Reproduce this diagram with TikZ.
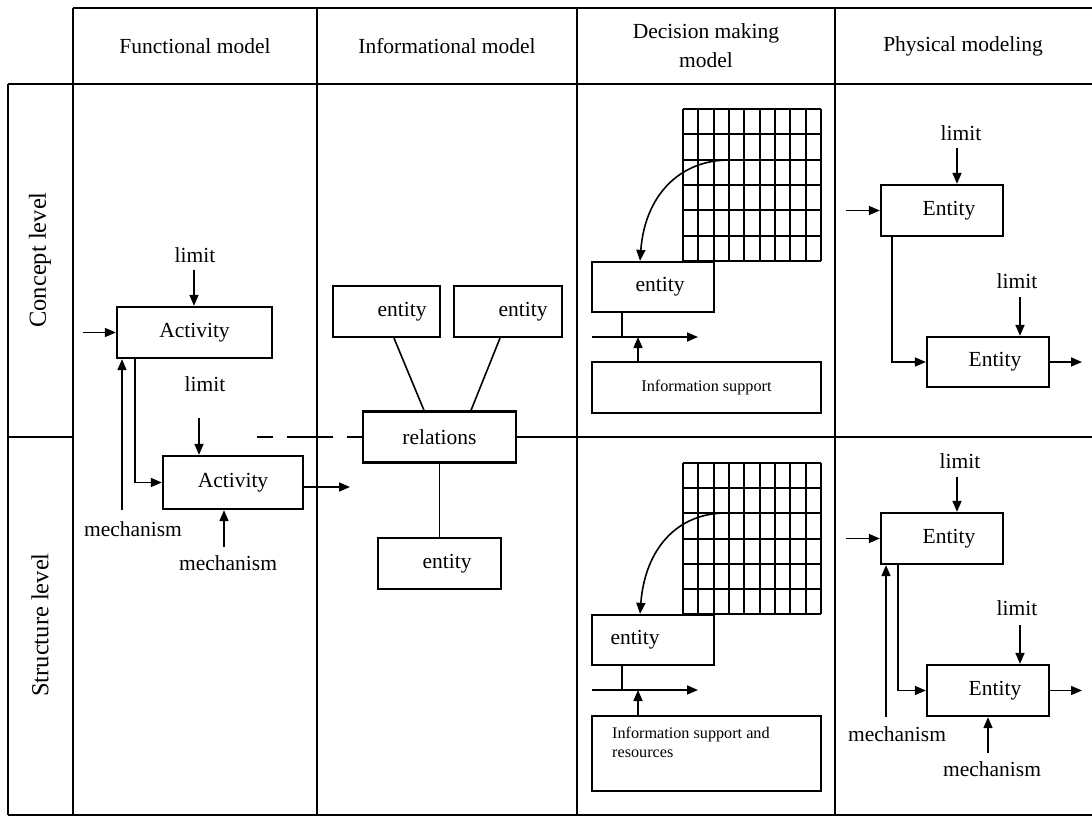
\documentclass[tikz,border=0pt]{standalone}
\usepackage{fontspec}
\setmainfont{Liberation Serif}
\usetikzlibrary{arrows.meta,calc}
\begin{document}
\begin{tikzpicture}[x=1pt,y=-1pt,
  font=\fontsize{21.5}{25}\selectfont,
  tbl/.style={line width=1.6pt},
  bx/.style={draw, line width=2.3pt, inner sep=0pt},
  arr/.style={line width=1.6pt, -{Triangle[length=11pt,width=9pt]}},
  ln/.style={line width=1.6pt},
  grd/.style={line width=2pt},
  txt/.style={inner sep=0pt},
  rowlbl/.style={inner sep=0pt, rotate=90, font=\fontsize{24.5}{28}\selectfont},
  smalltxt/.style={font=\fontsize{16.2}{19}\selectfont}]

\useasboundingbox (0,0) rectangle (1092,818);

% table
\draw[tbl] (73,8) -- (1092,8);
\draw[tbl] (8,84) -- (1092,84);
\draw[tbl] (8,815) -- (1092,815);
\draw[tbl] (8,84) -- (8,815);
\foreach \x in {73,317,577,835} \draw[tbl] (\x,8) -- (\x,815);
\draw[tbl] (8,437) -- (73,437);

% headers
\node[txt] (h1) at (195,46) {Functional model};
\node[txt] (h2) at (447,46) {Informational model};
\node[txt, align=center, font=\fontsize{21.5}{29}\selectfont] (h3) at (706,46) {Decision making\\model};
\node[txt] (h4) at (963,46) {Physical modeling};
\node[rowlbl] (r1) at (40,260) {Concept level};
\node[rowlbl] (r2) at (40,625) {Structure level};

% functional model
\node[bx, minimum width=155pt, minimum height=51pt] (a1) at (194.5,332.5) {Activity};
\node[txt] (lim1) at (195,255) {limit};
\coordinate (lim1s) at (194,270);
\draw[arr] (lim1s) -- (lim1s |- a1.north);
\coordinate (in1) at (83,332.5);
\draw[arr] (in1) -- (a1.west);
\coordinate (m1s) at (122,510);
\draw[arr] (m1s) -- (m1s |- a1.south);
\node[bx, minimum width=140pt, minimum height=53pt] (a2) at (233,482.5) {Activity};
\draw[arr] ([xshift=-59.5pt]a1.south) |- (a2.west);
\node[txt] (lim2) at (205,384) {limit};
\coordinate (lim2s) at (199,418);
\draw[arr] (lim2s) -- (lim2s |- a2.north);
\coordinate (o1) at (350,487);
\draw[arr] (a2.east |- o1) -- (o1);
\coordinate (m2s) at (224,547);
\draw[arr] (m2s) -- (m2s |- a2.south);
\node[txt] (mech1) at (133,529) {mechanism};
\node[txt] (mech2) at (228,563) {mechanism};

% informational model
\node[bx, minimum width=107pt, minimum height=51pt, label={[txt,xshift=15.5pt]center:entity}] (e1) at (386.5,311.5) {};
\node[bx, minimum width=108pt, minimum height=51pt, label={[txt,xshift=15pt]center:entity}] (e2) at (508,311.5) {};
\node[bx, minimum width=153pt, minimum height=51pt] (rel) at (439.5,437) {relations};
\node[bx, minimum width=123pt, minimum height=51pt, label={[txt,xshift=7.5pt]center:entity}] (e3) at (439.5,563.5) {};
\draw[ln] ([xshift=7.5pt]e1.south) -- ([xshift=-15.5pt]rel.north);
\draw[ln] ([xshift=-8pt]e2.south) -- ([xshift=31.5pt]rel.north);
\draw[ln] (rel.south) -- (e3.north);
\coordinate (dl) at (257,437);
\draw[tbl, dash pattern=on 16pt off 14pt on 46pt off 14pt] (dl) -- (rel.west);
\coordinate (rr) at (1092,437);
\draw[tbl] (rel.east) -- (rr);

% decision making model - top
\foreach \x in {683,698,714,729,744,760,775,790,806,821} \draw[grd] (\x,109) -- (\x,261);
\foreach \y in {109,134,160,185,210,236,261} \draw[grd] (683,\y) -- (821,\y);
\node[bx, minimum width=122pt, minimum height=50pt, label={[txt,xshift=7pt]center:entity}] (d1) at (653,287) {};
\coordinate (g1) at (729,160);
\draw[arr] (g1) .. controls (680,160) and (645,195) .. ([xshift=-13pt]d1.north);
\coordinate (jh1s) at (592,337);
\coordinate (jh1e) at (698,337);
\draw[arr] (jh1s) -- (jh1e);
\draw[ln] ([xshift=-31pt]d1.south) -- ([xshift=-31pt]d1.south |- jh1s);
\node[bx, minimum width=229pt, minimum height=51pt, smalltxt] (i1) at (706.5,387.5) {Information support};
\draw[arr] ([xshift=-68.5pt]i1.north) -- ([xshift=-68.5pt]i1.north |- jh1s);

% decision making model - bottom
\foreach \x in {683,698,714,729,744,760,775,790,806,821} \draw[grd] (\x,463) -- (\x,614);
\foreach \y in {463,488,513,539,564,589,614} \draw[grd] (683,\y) -- (821,\y);
\node[bx, minimum width=122pt, minimum height=50pt, label={[txt,xshift=-18pt]center:entity}] (d2) at (653,640) {};
\coordinate (g2) at (726,513);
\draw[arr] (g2) .. controls (677,513) and (645,549) .. ([xshift=-13pt]d2.north);
\coordinate (jh2s) at (592,690);
\coordinate (jh2e) at (698,690);
\draw[arr] (jh2s) -- (jh2e);
\draw[ln] ([xshift=-31pt]d2.south) -- ([xshift=-31pt]d2.south |- jh2s);
\node[bx, minimum width=229pt, minimum height=75pt] (i2) at (706.5,753.5) {};
\node[txt, smalltxt, align=left, anchor=north west] (i2t) at (612,727) {Information support and\\resources};
\draw[arr] ([xshift=-68.5pt]i2.north) -- ([xshift=-68.5pt]i2.north |- jh2s);

% physical modeling - top
\node[bx, minimum width=122pt, minimum height=51pt, label={[txt,xshift=7pt]center:Entity}] (p1) at (942,210.5) {};
\node[txt] (pl1) at (961,133) {limit};
\coordinate (pl1s) at (957,148);
\draw[arr] (pl1s) -- (pl1s |- p1.north);
\coordinate (pin1) at (846,210.5);
\draw[arr] (pin1) -- (p1.west);
\node[bx, minimum width=122pt, minimum height=50pt, label={[txt,xshift=7pt]center:Entity}] (p2) at (988,362) {};
\draw[arr] ([xshift=-50pt]p1.south) |- (p2.west);
\node[txt] (pl2) at (1017,281) {limit};
\coordinate (pl2s) at (1020,297);
\draw[arr] (pl2s) -- (pl2s |- p2.north);
\coordinate (po1) at (1082,362);
\draw[arr] (p2.east) -- (po1);

% physical modeling - bottom
\node[bx, minimum width=122pt, minimum height=51pt, label={[txt,xshift=7pt]center:Entity}] (p3) at (942,538.5) {};
\node[txt] (pl3) at (960,461) {limit};
\coordinate (pl3s) at (957,477);
\draw[arr] (pl3s) -- (pl3s |- p3.north);
\coordinate (pin3) at (846,538.5);
\draw[arr] (pin3) -- (p3.west);
\coordinate (pm1s) at (886,717);
\draw[arr] (pm1s) -- (pm1s |- p3.south);
\node[bx, minimum width=122pt, minimum height=51pt, label={[txt,xshift=7pt]center:Entity}] (p4) at (988,690.5) {};
\draw[arr] ([xshift=-44pt]p3.south) |- (p4.west);
\node[txt] (pl4) at (1017,608) {limit};
\coordinate (pl4s) at (1020,625);
\draw[arr] (pl4s) -- (pl4s |- p4.north);
\coordinate (po2) at (1082,690.5);
\draw[arr] (p4.east) -- (po2);
\coordinate (pm2s) at (988,753);
\draw[arr] (pm2s) -- (pm2s |- p4.south);
\node[txt] (mech3) at (897,734) {mechanism};
\node[txt] (mech4) at (992,769) {mechanism};

\end{tikzpicture}
\end{document}
